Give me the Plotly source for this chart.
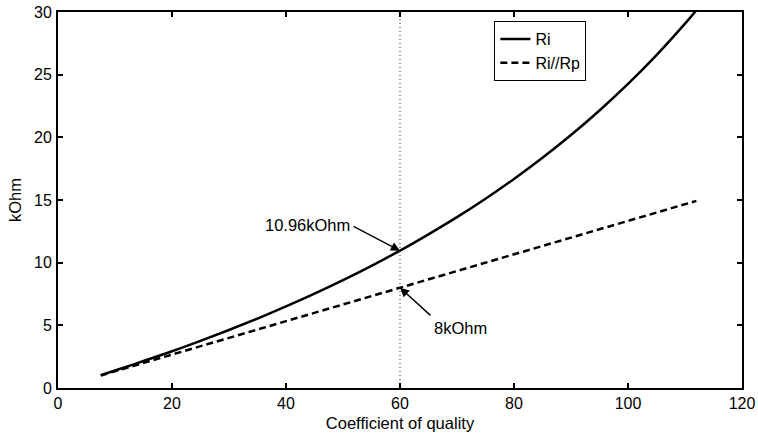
import plotly.graph_objects as go

# Coefficient of quality (x)
Q = [7.5, 10, 15, 20, 25, 30, 35, 40, 45, 50, 55, 60, 65, 70, 75, 80, 85, 90, 95, 100, 105, 110, 112]
# Ri (kOhm), solid curve
Ri = [1.03, 1.40, 2.15, 2.93, 3.76, 4.63, 5.54, 6.51, 7.53, 8.61, 9.75, 10.96, 12.26, 13.63, 15.10,
      16.68, 18.37, 20.18, 22.14, 24.26, 26.56, 29.07, 30.14]
# Ri//Rp (kOhm), dashed line
RiRp = [1.00, 1.33, 2.00, 2.67, 3.33, 4.00, 4.67, 5.33, 6.00, 6.67, 7.33, 8.00, 8.67, 9.33, 10.00,
        10.67, 11.33, 12.00, 12.67, 13.33, 14.00, 14.67, 14.93]

x_ticks = [0, 20, 40, 60, 80, 100, 120]
y_ticks = [0, 5, 10, 15, 20, 25, 30]

marker_q = 60
marker_ri = 10.96
marker_rirp = 8.0

FONT = "Liberation Sans, Arial, Helvetica, sans-serif"

fig = go.Figure()
fig.add_trace(go.Scatter(x=Q, y=Ri, mode="lines", name="Ri",
                         line=dict(color="black", width=2.5, shape="spline")))
fig.add_trace(go.Scatter(x=Q, y=RiRp, mode="lines", name="Ri//Rp",
                         line=dict(color="black", width=2.5, dash="7px,4px")))
# vertical dotted line at Q = 60
fig.add_trace(go.Scatter(x=[marker_q, marker_q], y=[0, 30], mode="lines", showlegend=False,
                         line=dict(color="#222222", width=1, dash="1px,3px")))

# arrows
fig.add_annotation(x=marker_q, y=marker_ri, xref="x", yref="y", text="", showarrow=True,
                   ax=-48, ay=-25, arrowhead=2, arrowsize=1.3, arrowwidth=1.4, arrowcolor="black")
fig.add_annotation(x=marker_q, y=marker_rirp, xref="x", yref="y", text="", showarrow=True,
                   ax=32, ay=29, arrowhead=2, arrowsize=1.3, arrowwidth=1.4, arrowcolor="black")
# labels
fig.add_annotation(x=51.6, y=13.0, xref="x", yref="y", text="10.96kOhm", showarrow=False,
                   xanchor="right", yanchor="middle", font=dict(size=16.5, color="black", family=FONT))
fig.add_annotation(x=65.6, y=4.75, xref="x", yref="y", text="8kOhm", showarrow=False,
                   xanchor="left", yanchor="middle", font=dict(size=16.5, color="black", family=FONT))

axis_common = dict(showline=True, linecolor="black", linewidth=2, mirror="ticks",
                   ticks="inside", ticklen=5, tickwidth=1.5, tickcolor="black",
                   showgrid=False, zeroline=False, ticklabeloverflow="allow",
                   tickfont=dict(size=16, color="black", family=FONT))

fig.update_xaxes(range=[0, 120], tickvals=x_ticks, ticktext=[str(v) for v in x_ticks],
                 title=dict(text="Coefficient of quality", font=dict(size=16.5, color="black", family=FONT),
                            standoff=6),
                 ticklabelstandoff=0, **axis_common)
fig.update_yaxes(range=[0, 30], tickvals=y_ticks, ticktext=[str(v) for v in y_ticks],
                 title=dict(text="kOhm", font=dict(size=16.5, color="black", family=FONT), standoff=8),
                 ticklabelstandoff=1, **axis_common)

fig.update_layout(
    width=758, height=438,
    margin=dict(l=58, r=16, t=12, b=50, autoexpand=False),
    plot_bgcolor="white", paper_bgcolor="white",
    font=dict(family=FONT, color="black", size=16),
    showlegend=True,
    legend=dict(x=0.638, y=0.976, xanchor="left", yanchor="top",
                bordercolor="black", borderwidth=1, bgcolor="white",
                font=dict(size=16, color="black", family=FONT),
                tracegroupgap=0, itemwidth=30),
)

fig.write_html("out.html",
               config={"displayModeBar": False},
               post_script="document.body.style.margin='0';document.body.style.overflow='hidden';")
